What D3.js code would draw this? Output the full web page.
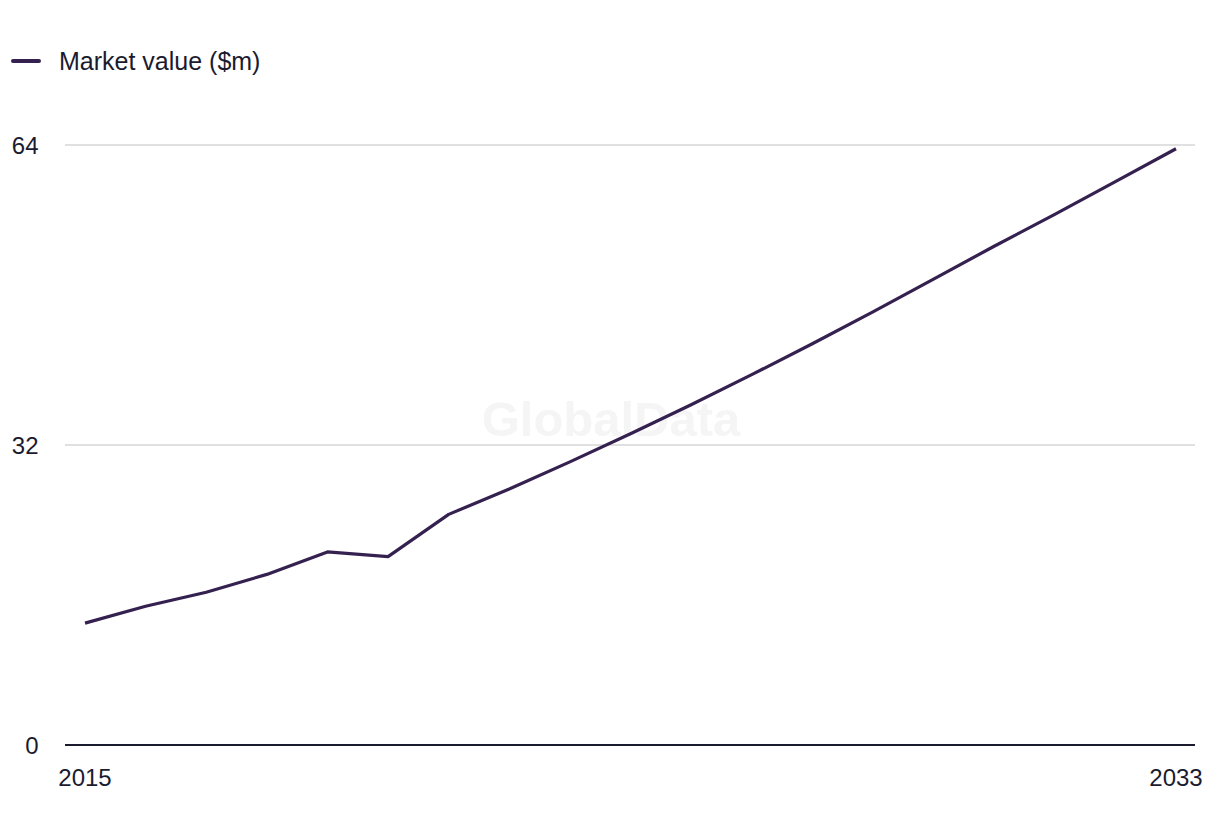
<!DOCTYPE html>
<html>
<head>
<meta charset="utf-8">
<script src="https://cdn.jsdelivr.net/npm/d3@7"></script>
<style>
  html, body { margin: 0; padding: 0; background: #ffffff; }
  svg { display: block; }
  text { font-family: "Liberation Sans", Arial, sans-serif; }
</style>
</head>
<body>
<svg id="chart" width="1220" height="836"></svg>
<script>
const years = [2015, 2016, 2017, 2018, 2019, 2020, 2021, 2022, 2023, 2024, 2025, 2026, 2027, 2028, 2029, 2030, 2031, 2032, 2033];
const marketValue = [13.0, 14.8, 16.3, 18.2, 20.6, 20.1, 24.6, 27.3, 30.2, 33.2, 36.3, 39.5, 42.8, 46.2, 49.7, 53.2, 56.6, 60.1, 63.6];
const yTicks = [0, 32, 64];
const xTickLabels = [2015, 2033];
const seriesName = "Market value ($m)";

const svg = d3.select("#chart");
const lineColor = "#35214f";
const textColor = "#1b1b2f";

const x = d3.scaleLinear().domain([2015, 2033]).range([85, 1176]);
const y = d3.scaleLinear().domain([0, 64]).range([745, 145]);
const gridLeft = 65, gridRight = 1195;

// watermark
svg.append("text")
  .attr("x", 611).attr("y", 436)
  .attr("text-anchor", "middle")
  .attr("font-size", 49).attr("font-weight", "bold")
  .attr("fill", "#f5f5f5")
  .text("GlobalData");

// gridlines
svg.append("g").selectAll("line")
  .data(yTicks.filter(d => d !== 0))
  .join("line")
  .attr("x1", gridLeft).attr("x2", gridRight)
  .attr("y1", d => y(d)).attr("y2", d => y(d))
  .attr("stroke", "#d6d6d6").attr("stroke-width", 1.5);

// y labels
svg.append("g").selectAll("text")
  .data(yTicks)
  .join("text")
  .attr("x", 38.5).attr("y", d => y(d) + 9)
  .attr("text-anchor", "end")
  .attr("font-size", 24).attr("fill", textColor)
  .text(d => d);

// baseline axis
svg.append("line")
  .attr("x1", gridLeft).attr("x2", gridRight)
  .attr("y1", y(0)).attr("y2", y(0))
  .attr("stroke", textColor).attr("stroke-width", 2);

// x labels
svg.append("g").selectAll("text")
  .data(xTickLabels)
  .join("text")
  .attr("x", d => x(d)).attr("y", 786)
  .attr("text-anchor", "middle")
  .attr("font-size", 24).attr("fill", textColor)
  .text(d => d);

// line
const data = years.map((yr, i) => ({ yr, v: marketValue[i] }));
svg.append("path")
  .datum(data)
  .attr("fill", "none")
  .attr("stroke", lineColor)
  .attr("stroke-width", 3.2)
  .attr("stroke-linejoin", "round")
  .attr("d", d3.line().x(d => x(d.yr)).y(d => y(d.v)));

// legend
svg.append("line")
  .attr("x1", 13).attr("x2", 39).attr("y1", 61).attr("y2", 61)
  .attr("stroke", lineColor).attr("stroke-width", 4).attr("stroke-linecap", "round");
svg.append("text")
  .attr("x", 59).attr("y", 70)
  .attr("font-size", 25).attr("fill", textColor)
  .text(seriesName);
</script>
</body>
</html>
